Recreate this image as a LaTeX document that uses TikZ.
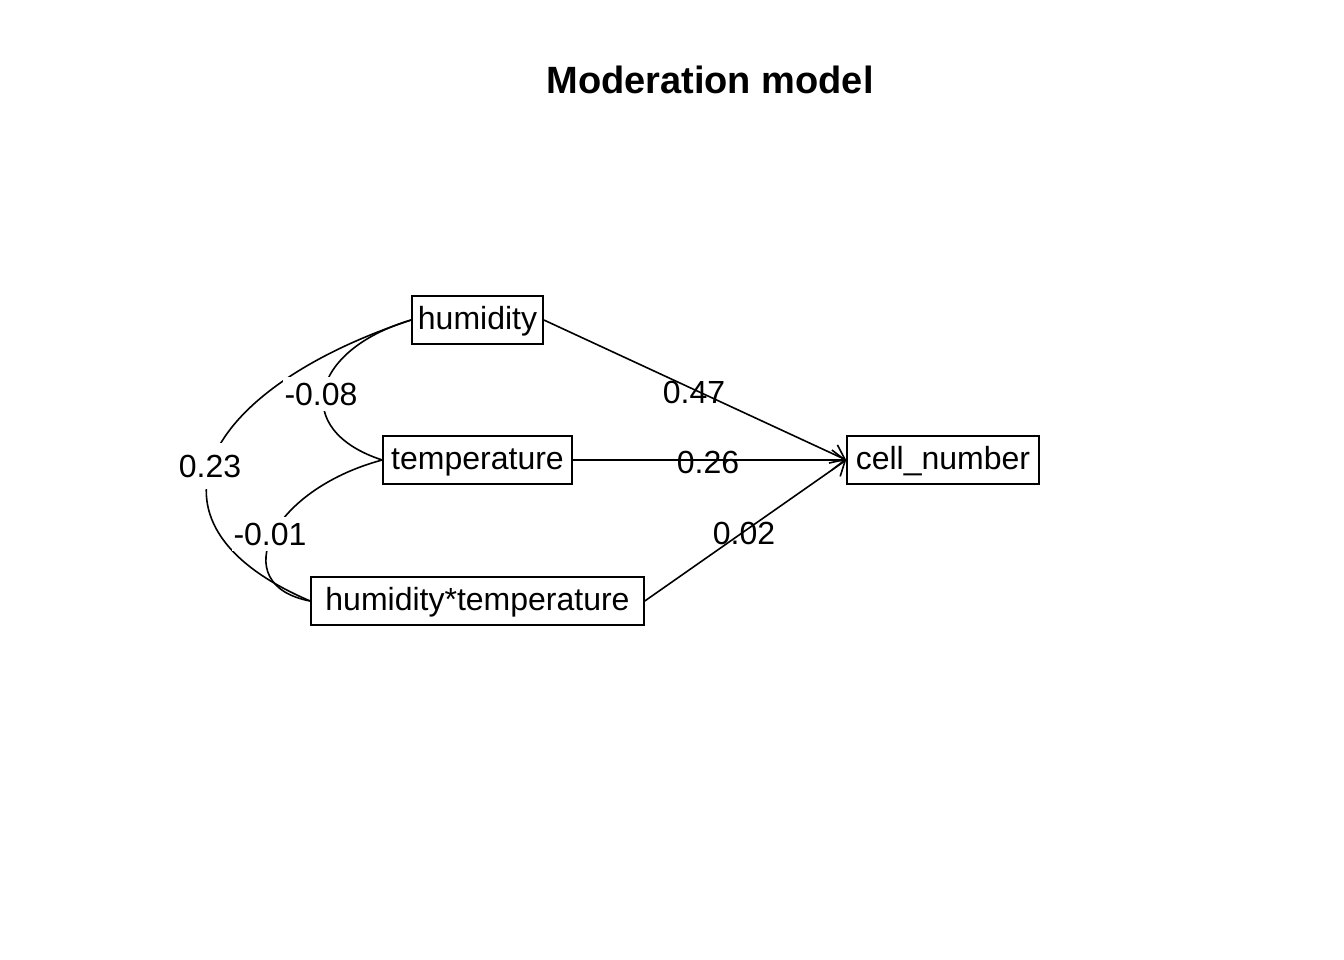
\documentclass[tikz,border=0pt]{standalone}
\usepackage{fontspec}
\setmainfont{Liberation Sans}
\usetikzlibrary{arrows.meta}
\begin{document}
\begin{tikzpicture}[x=1pt,y=-1pt,
  var/.style={draw,line width=1.6pt,minimum height=48pt,inner xsep=6pt,inner ysep=0pt,font=\fontsize{32}{34}\selectfont,text height=24pt,text depth=6pt},
  lab/.style={font=\fontsize{32}{34}\selectfont,inner sep=1pt},
  clab/.style={lab,fill=white,inner xsep=2pt,inner ysep=6pt},
  edge/.style={line width=1.6pt,-{Straight Barb[length=13pt,width=20pt,line width=1.6pt]}},
  cov/.style={line width=1.6pt}]
\useasboundingbox (0,0) rectangle (1344,960);
\node[font=\bfseries\fontsize{38}{42}\selectfont] (title) at (710,80) {Moderation model};
\node[var,minimum width=131pt] (hum) at (477.5,320) {humidity};
\node[var,minimum width=189pt] (temp) at (477.5,460) {temperature};
\node[var,minimum width=333pt] (ht) at (477.5,601) {humidity*temperature};
\node[var,minimum width=192pt] (cell) at (943,460) {cell\_number};
% curved covariances
\draw[cov] (hum.west) .. controls (205,388) and (125,522) .. (ht.west);
\draw[cov] (hum.west) .. controls (310,350) and (290,430) .. (temp.west);
\draw[cov] (temp.west) .. controls (270,490) and (225,585) .. (ht.west);
\node[clab,inner ysep=12pt] (l23) at (210,466) {0.23};
\node[clab] (l08) at (321,394) {-0.08};
\node[clab] (l01) at (270,534) {-0.01};
% regressions
\draw[edge] (hum.east) -- (cell.west);
\draw[edge] (temp.east) -- (cell.west);
\draw[edge] (ht.east) -- (cell.west);
\node[lab] (l47) at (694,392) {0.47};
\node[lab] (l26) at (708,462) {0.26};
\node[lab] (l02) at (744,533) {0.02};
\end{tikzpicture}
\end{document}
